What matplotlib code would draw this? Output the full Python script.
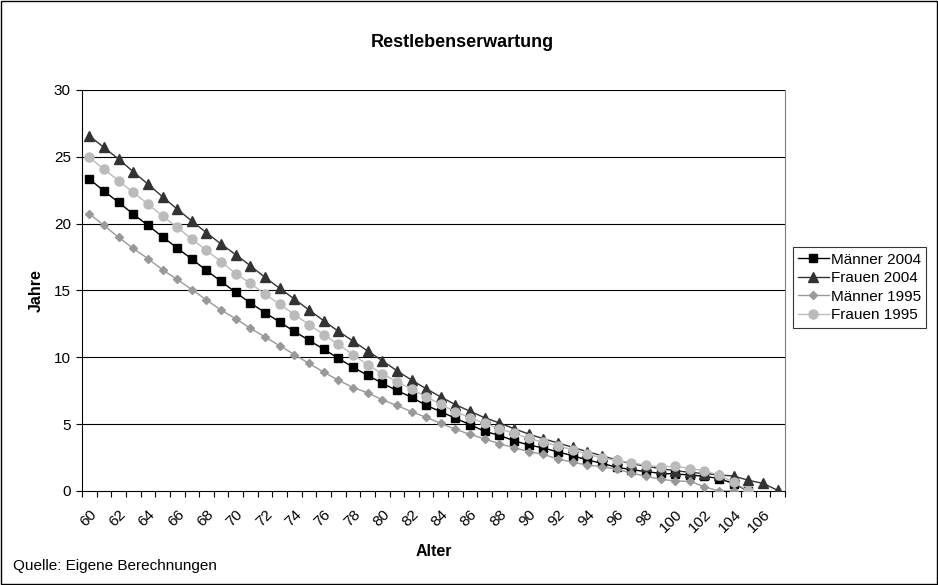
import numpy as np
import matplotlib
matplotlib.use("Agg")
import matplotlib.pyplot as plt
from matplotlib.patches import Rectangle

plt.rcParams['font.family'] = ['Liberation Sans', 'DejaVu Sans']

# Alter 60..107
alter = list(range(60, 108))
nan = np.nan

maenner_2004 = [23.34, 22.44, 21.59, 20.72, 19.87, 19.02, 18.17, 17.35, 16.50, 15.68,
                14.85, 14.06, 13.35, 12.63, 11.94, 11.27, 10.61, 9.93, 9.26, 8.66,
                8.06, 7.52, 7.01, 6.41, 5.93, 5.44, 4.96, 4.46, 4.16, 3.76,
                3.44, 3.22, 2.92, 2.64, 2.32, 2.07, 1.77, 1.60, 1.45, 1.32,
                1.27, 1.20, 1.10, 0.93, 0.55, 0.00, nan, nan]
frauen_2004 = [26.57, 25.70, 24.83, 23.88, 22.96, 22.01, 21.09, 20.19, 19.32, 18.47,
               17.68, 16.85, 15.98, 15.16, 14.36, 13.54, 12.74, 11.95, 11.22, 10.48,
               9.75, 9.00, 8.30, 7.65, 7.03, 6.46, 5.96, 5.48, 5.09, 4.66,
               4.26, 3.91, 3.59, 3.27, 2.94, 2.64, 2.32, 2.05, 1.85, 1.68,
               1.52, 1.40, 1.30, 1.20, 1.12, 0.80, 0.57, 0.05]
maenner_1995 = [20.74, 19.87, 18.97, 18.15, 17.38, 16.55, 15.83, 15.07, 14.29, 13.53,
                12.88, 12.17, 11.52, 10.86, 10.21, 9.54, 8.90, 8.29, 7.74, 7.35,
                6.82, 6.40, 5.93, 5.51, 5.06, 4.61, 4.24, 3.89, 3.54, 3.24,
                2.94, 2.74, 2.39, 2.15, 1.94, 1.82, 1.63, 1.35, 1.10, 0.88,
                0.75, 0.72, 0.32, 0.00, 0.00, nan, nan, nan]
frauen_1995 = [24.96, 24.08, 23.21, 22.34, 21.47, 20.57, 19.72, 18.85, 18.00, 17.15,
               16.26, 15.53, 14.73, 13.96, 13.20, 12.45, 11.70, 10.96, 10.20, 9.44,
               8.78, 8.16, 7.63, 7.03, 6.48, 5.93, 5.48, 5.06, 4.66, 4.31,
               3.94, 3.64, 3.39, 3.07, 2.77, 2.47, 2.30, 2.12, 1.93, 1.80,
               1.85, 1.68, 1.52, 1.18, 0.64, 0.02, nan, nan]

x_labels = [str(a) for a in range(60, 107, 2)]
y_ticks = [0, 5, 10, 15, 20, 25, 30]

fig = plt.figure(figsize=(9.38, 5.85), dpi=100)
ax = fig.add_axes([0.0874, 0.1607, 0.7495, 0.6855])

# Rahmen um die ganze Grafik
fig.patches.append(Rectangle((0.0006, 0.001), 0.9985, 0.997, transform=fig.transFigure,
                             fill=False, edgecolor='black', linewidth=1.0))

# Gitterlinien
for yt in y_ticks[1:]:
    ax.axhline(yt, color='black', linewidth=0.8, zorder=1)

ax.plot(alter, maenner_2004, '-s', color='black', markersize=5.2, linewidth=1.0,
        label='Männer 2004', zorder=3)
ax.plot(alter, frauen_2004, '-^', color='#333333', markersize=6.5, linewidth=1.0,
        label='Frauen 2004', zorder=3)
ax.plot(alter, maenner_1995, '-D', color='#999999', markersize=4.5, linewidth=1.0,
        label='Männer 1995', zorder=3)
ax.plot(alter, frauen_1995, '-o', color='#BBBBBB', markersize=6.5, linewidth=1.0,
        label='Frauen 1995', zorder=3)

ax.set_xlim(59.5, 107.5)
ax.set_ylim(0, 30)

# Kategorie-Achse: Striche zwischen den Kategorien, Beschriftung in der Mitte
ax.set_xticks(np.arange(59.5, 108, 1))
ax.set_xticklabels([])
ax.set_xticks(range(60, 107, 2), minor=True)
ax.set_xticklabels(x_labels, minor=True, rotation=45, ha='right', va='top',
                   rotation_mode='anchor', fontsize=11)
ax.tick_params(axis='x', which='major', direction='out', length=4, width=0.8)
ax.tick_params(axis='x', which='minor', length=0, pad=12)
ax.set_yticks(y_ticks)
ax.set_yticklabels([str(v) for v in y_ticks], fontsize=11)
ax.tick_params(axis='y', direction='out', length=4, width=0.8, pad=4)

ax.spines['left'].set_color('black')
ax.spines['bottom'].set_color('black')
ax.spines['right'].set_color('#808080')
ax.spines['top'].set_visible(False)

fig.text(0.4925, 0.928, 'Restlebenserwartung', fontsize=13, fontweight='bold',
         ha='center', va='center')
ax.set_xlabel('Alter', fontsize=11.5, fontweight='bold', labelpad=6)
ax.set_ylabel('Jahre', fontsize=11.5, fontweight='bold', labelpad=7)

leg = ax.legend(loc='center left', bbox_to_anchor=(0.845, 0.5085),
                bbox_transform=fig.transFigure, fontsize=11, frameon=True,
                fancybox=False, edgecolor='black', borderaxespad=0,
                handlelength=2.0, handletextpad=0.15, borderpad=0.35,
                labelspacing=0.3)
leg.get_frame().set_linewidth(0.8)

fig.text(0.014, 0.032, 'Quelle: Eigene Berechnungen', fontsize=11, ha='left', va='center')

fig.savefig('out.png', dpi=100)
